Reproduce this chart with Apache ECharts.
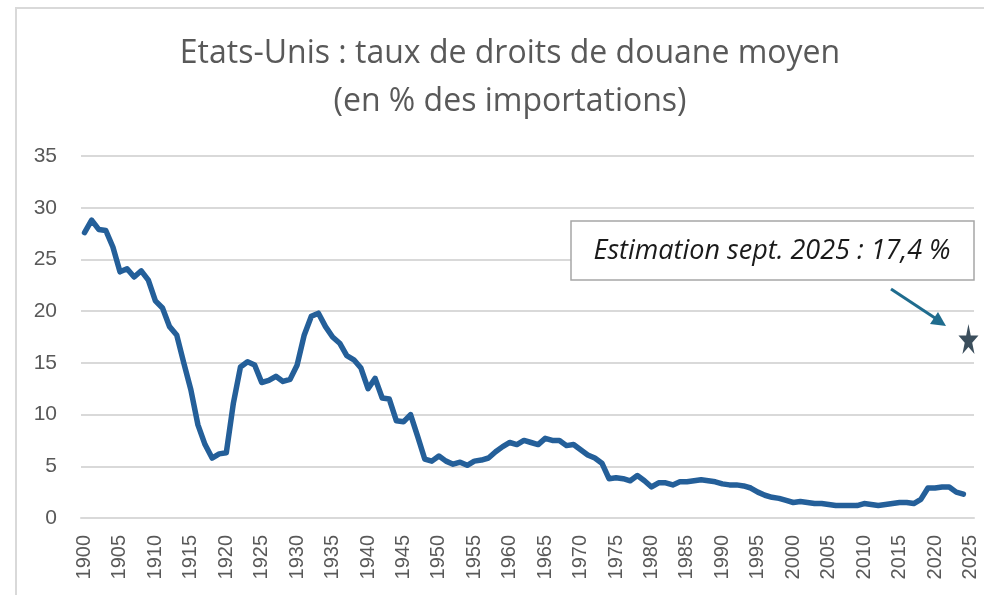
<!DOCTYPE html>
<html>
<head>
<meta charset="utf-8">
<title>Etats-Unis : taux de droits de douane moyen</title>
<script src="https://cdn.jsdelivr.net/npm/echarts@6/dist/echarts.min.js"></script>
<style>
  html, body { margin: 0; padding: 0; background: #fff; }
  #chart { width: 984px; height: 595px; }
</style>
</head>
<body>
<div id="chart"></div>
<script>
// années 1900 -> 2025 (axe des catégories)
var years = [];
for (var y = 1900; y <= 2025; y++) years.push(String(y));

// taux moyen de droits de douane, 1900-2024 (en % des importations)
var tariffs = [
  27.6, 28.8, 27.9, 27.8, 26.2, 23.8, 24.1, 23.3, 23.9, 23.0, // 1900-1909
  21.0, 20.3, 18.5, 17.7, 15.0, 12.4, 9.0, 7.1, 5.8, 6.2,     // 1910-1919
  6.3, 11.1, 14.6, 15.1, 14.8, 13.1, 13.3, 13.7, 13.2, 13.4,  // 1920-1929
  14.8, 17.7, 19.5, 19.8, 18.5, 17.5, 16.9, 15.7, 15.3, 14.5, // 1930-1939
  12.5, 13.5, 11.6, 11.5, 9.4, 9.3, 10.0, 7.9, 5.7, 5.5,      // 1940-1949
  6.0, 5.5, 5.2, 5.4, 5.1, 5.5, 5.6, 5.8, 6.4, 6.9,           // 1950-1959
  7.3, 7.1, 7.5, 7.3, 7.1, 7.7, 7.5, 7.5, 7.0, 7.1,           // 1960-1969
  6.6, 6.1, 5.8, 5.3, 3.8, 3.9, 3.8, 3.6, 4.1, 3.6,           // 1970-1979
  3.0, 3.4, 3.4, 3.2, 3.5, 3.5, 3.6, 3.7, 3.6, 3.5,           // 1980-1989
  3.3, 3.2, 3.2, 3.1, 2.9, 2.5, 2.2, 2.0, 1.9, 1.7,           // 1990-1999
  1.5, 1.6, 1.5, 1.4, 1.4, 1.3, 1.2, 1.2, 1.2, 1.2,           // 2000-2009
  1.4, 1.3, 1.2, 1.3, 1.4, 1.5, 1.5, 1.4, 1.8, 2.9,           // 2010-2019
  2.9, 3.0, 3.0, 2.5, 2.3                                     // 2020-2024
];

// estimation septembre 2025
var estimateYear = '2025';
var estimateValue = 17.4;

var starPath = 'path://M50,0 L61,35 L98,35 L68,57 L79,91 L50,70 L21,91 L32,57 L2,35 L39,35 Z';

var chart = echarts.init(document.getElementById('chart'));

var option = {
  backgroundColor: '#fff',
  animation: false,
  title: {
    text: 'Etats-Unis : taux de droits de douane moyen\n(en % des importations)',
    left: 505,
    textAlign: 'center',
    top: 25,
    textStyle: {
      fontFamily: 'Open Sans',
      fontWeight: 'normal',
      fontSize: 32,
      lineHeight: 48,
      color: '#595959'
    }
  },
  grid: {
    left: 81,
    right: 10,
    top: 156,
    bottom: 77
  },
  xAxis: {
    type: 'category',
    data: years,
    boundaryGap: true,
    axisLine: { show: true, lineStyle: { color: '#d9d9d9', width: 2 } },
    axisTick: { show: false },
    axisLabel: {
      interval: 4,
      rotate: 90,
      margin: 17,
      fontFamily: 'Liberation Sans',
      fontSize: 20,
      color: '#595959'
    }
  },
  yAxis: {
    type: 'value',
    min: 0,
    max: 35,
    interval: 5,
    axisLine: { show: false },
    axisTick: { show: false },
    splitLine: { lineStyle: { color: '#d9d9d9', width: 2 } },
    axisLabel: {
      margin: 24,
      fontFamily: 'Liberation Sans',
      fontSize: 21,
      color: '#595959'
    }
  },
  series: [
    {
      name: 'Taux moyen',
      type: 'line',
      data: tariffs,
      showSymbol: false,
      smooth: false,
      lineStyle: { color: '#245f99', width: 5.5, join: 'round', cap: 'round' }
    },
    {
      name: 'Estimation',
      type: 'scatter',
      data: [[estimateYear, estimateValue]],
      symbol: starPath,
      symbolSize: [20, 30],
      symbolOffset: [-2, 1],
      itemStyle: { color: '#0a2233' }
    }
  ],
  graphic: [
    // cadre du graphique
    {
      type: 'rect',
      shape: { x: 16, y: 8, width: 990, height: 600 },
      style: { fill: 'none', stroke: '#d9d9d9', lineWidth: 2 },
      silent: true
    },
    // encadré d'annotation
    {
      type: 'rect',
      shape: { x: 571, y: 221, width: 403, height: 59 },
      style: { fill: '#fff', stroke: '#a6a6a6', lineWidth: 1.5 },
      z: 10
    },
    {
      type: 'text',
      x: 772,
      y: 251,
      style: {
        text: 'Estimation sept. 2025 : 17,4 %',
        fontFamily: 'Open Sans',
        fontStyle: 'italic',
        fontSize: 27,
        fill: '#1a1a1a',
        align: 'center',
        verticalAlign: 'middle'
      },
      z: 11
    },
    // flèche
    {
      type: 'line',
      shape: { x1: 891, y1: 289, x2: 938, y2: 320 },
      style: { stroke: '#1f6c8e', lineWidth: 3 },
      z: 10
    },
    {
      type: 'polygon',
      shape: { points: [[946, 326], [930, 324], [938, 312]] },
      style: { fill: '#1f6c8e' },
      z: 10
    }
  ]
};

chart.setOption(option);
</script>
</body>
</html>
